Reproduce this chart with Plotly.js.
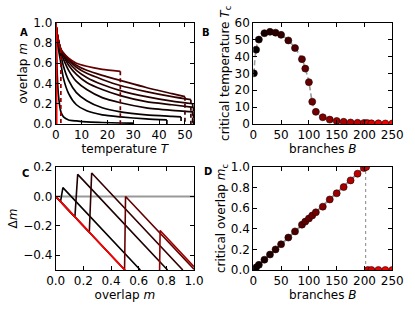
<!DOCTYPE html>
<html><head><meta charset="utf-8">
<script src="https://cdn.plot.ly/plotly-3.0.1.min.js"></script>
<style>html,body{margin:0;padding:0;background:#fff}#chart{width:415px;height:312px}</style>
</head><body><div id="chart"></div>
<script>
// ---------- Panel B / D data (branches B) ----------
const branches = [1, 5, 10, 20, 30, 40, 50, 63, 75, 87.5, 93.5, 100, 106, 112.5, 125, 137.5, 150, 162.5, 175, 187.5, 199, 203, 206, 212.5, 225, 237.5, 250];
const criticalTemp = [30, 44, 50, 53.8, 54.6, 54.1, 52.8, 49.5, 45, 38.4, 32.8, 24.8, 13.2, 7.2, 4.0, 2.6, 1.8, 1.3, 0.9, 0.7, 0.6, 0.5, 0.5, 0.4, 0.4, 0.3, 0.3];
const criticalOverlap = [0.005, 0.025, 0.05, 0.1, 0.15, 0.2, 0.25, 0.315, 0.375, 0.44, 0.47, 0.5, 0.53, 0.56, 0.615, 0.685, 0.745, 0.805, 0.87, 0.935, 0.99, 1.0, 0, 0, 0, 0, 0];
const fitLineB = [0, 200];
const fitLineM = [0, 1];
const thresholdB = [202, 202];
const thresholdM = [0, 1];

// ---------- Panel A data: overlap m vs temperature T, one curve per B ----------
const curveBranchesA = [1, 5, 10, 20, 30, 40, 50, 63, 100, 150, 250];
const tempA_B1   = [0, 0.5, 1, 2, 3, 5, 8, 12, 18, 25, 30];
const overlapA_B1 = [1, 0.55, 0.3, 0.12, 0.07, 0.04, 0.03, 0.02, 0.015, 0.01, 0.008];
const tempA_B5   = [0, 0.5, 1, 2, 3, 5, 8, 12, 18, 25, 35, 43];
const overlapA_B5 = [1, 0.85, 0.75, 0.6, 0.45, 0.3, 0.19, 0.13, 0.09, 0.07, 0.05, 0.04];
const tempA_B10  = [0, 0.5, 1, 2, 3, 5, 8, 12, 18, 25, 35, 45, 48.5];
const overlapA_B10 = [1, 0.88, 0.8, 0.68, 0.57, 0.43, 0.31, 0.23, 0.16, 0.12, 0.09, 0.075, 0.07];
const tempA_B20  = [0, 0.5, 1, 2, 3, 5, 8, 12, 18, 25, 35, 45, 53];
const overlapA_B20 = [1, 0.9, 0.82, 0.71, 0.64, 0.53, 0.42, 0.34, 0.26, 0.21, 0.16, 0.135, 0.12];
const tempA_B30  = [0, 0.5, 1, 2, 3, 5, 8, 12, 18, 25, 35, 45, 53.3];
const overlapA_B30 = [1, 0.9, 0.83, 0.72, 0.67, 0.58, 0.49, 0.41, 0.34, 0.28, 0.22, 0.19, 0.165];
const tempA_B40  = [0, 0.5, 1, 2, 3, 5, 8, 12, 18, 25, 35, 45, 53];
const overlapA_B40 = [1, 0.9, 0.83, 0.73, 0.68, 0.61, 0.53, 0.46, 0.39, 0.33, 0.27, 0.225, 0.2];
const tempA_B50  = [0, 0.5, 1, 2, 3, 5, 8, 12, 18, 25, 35, 45, 52.3];
const overlapA_B50 = [1, 0.9, 0.83, 0.73, 0.69, 0.63, 0.56, 0.5, 0.44, 0.38, 0.32, 0.27, 0.24];
const tempA_B63  = [0, 0.5, 1, 2, 3, 5, 8, 12, 18, 25, 35, 45, 50];
const overlapA_B63 = [1, 0.9, 0.83, 0.74, 0.7, 0.64, 0.58, 0.53, 0.48, 0.43, 0.36, 0.3, 0.27];
const tempA_B100 = [0, 0.5, 1, 2, 3, 5, 8, 12, 18, 25];
const overlapA_B100 = [1, 0.9, 0.83, 0.74, 0.7, 0.65, 0.6, 0.57, 0.54, 0.52];
const tempA_B150 = [0, 0.5, 1, 1.5, 2];
const overlapA_B150 = [1, 0.9, 0.83, 0.77, 0.74];
const tempA_B250 = [0, 0.2, 0.4];
const overlapA_B250 = [1, 0.9, 0];

// ---------- Panel C data: Δm vs overlap m ----------
const curveBranchesC = [7, 28, 49, 100, 150, 250];
const overlapC_B7 = [0, 0.035, 0.052, 0.612];
const deltaC_B7 = [0, -0.035, 0.06, -0.5];
const overlapC_B28 = [0, 0.139, 0.159, 0.809];
const deltaC_B28 = [0, -0.139, 0.15, -0.5];
const overlapC_B49 = [0, 0.243, 0.26, 0.919];
const deltaC_B49 = [0, -0.243, 0.159, -0.5];
const overlapC_B100 = [0, 0.498, 0.505, 1.0];
const deltaC_B100 = [0, -0.498, 0.0, -0.495];
const overlapC_B150 = [0, 0.748, 0.755, 1.0];
const deltaC_B150 = [0, -0.748, -0.232, -0.477];
const overlapC_B250 = [0, 1.0];
const deltaC_B250 = [0, -1.0];
const zeroLineX = [0, 1];
const zeroLineY = [0, 0];

// ---------- helpers ----------
const Bmax = 250;
function col(b){ return 'rgb(' + Math.round(255*Math.min(b,Bmax)/Bmax) + ',0,0)'; }
const FONT = 'DejaVu Sans, Liberation Sans, sans-serif';
const FS = 12;
const traces = [];

// Panel A
const aT = [tempA_B1, tempA_B5, tempA_B10, tempA_B20, tempA_B30, tempA_B40, tempA_B50, tempA_B63, tempA_B100, tempA_B150, tempA_B250];
const aM = [overlapA_B1, overlapA_B5, overlapA_B10, overlapA_B20, overlapA_B30, overlapA_B40, overlapA_B50, overlapA_B63, overlapA_B100, overlapA_B150, overlapA_B250];
curveBranchesA.forEach((b, i) => {
  const T = aT[i], M = aM[i];
  traces.push({x: T, y: M, xaxis: 'x', yaxis: 'y', mode: 'lines', line: {color: col(b), width: 1.7, shape: 'spline', smoothing: 0.6}, hoverinfo: 'skip', showlegend: false});
  const te = T[T.length-1], me = M[M.length-1];
  if (me > 0) traces.push({x: [te, te], y: [me, 0], xaxis: 'x', yaxis: 'y', mode: 'lines', line: {color: col(b), width: 1.7, dash: '4px,3px'}, hoverinfo: 'skip', showlegend: false});
});

// Panel B
traces.push({x: branches, y: criticalTemp, xaxis: 'x2', yaxis: 'y2', mode: 'lines', line: {color: '#999', width: 1.6, dash: '5px,3px', shape: 'spline'}, hoverinfo: 'skip', showlegend: false});
traces.push({x: branches, y: criticalTemp, xaxis: 'x2', yaxis: 'y2', mode: 'markers', marker: {size: 7, color: branches.map(col), line: {color: '#200', width: 0.6}}, cliponaxis: true, showlegend: false});

// Panel C
traces.push({x: zeroLineX, y: zeroLineY, xaxis: 'x3', yaxis: 'y3', mode: 'lines', line: {color: '#999', width: 2}, hoverinfo: 'skip', showlegend: false});
const cX = [overlapC_B7, overlapC_B28, overlapC_B49, overlapC_B100, overlapC_B150, overlapC_B250];
const cY = [deltaC_B7, deltaC_B28, deltaC_B49, deltaC_B100, deltaC_B150, deltaC_B250];
curveBranchesC.forEach((b, i) => {
  traces.push({x: cX[i], y: cY[i], xaxis: 'x3', yaxis: 'y3', mode: 'lines', line: {color: col(b), width: 1.6}, hoverinfo: 'skip', showlegend: false});
});

// Panel D
traces.push({x: fitLineB, y: fitLineM, xaxis: 'x4', yaxis: 'y4', mode: 'lines', line: {color: '#999', width: 2}, hoverinfo: 'skip', showlegend: false});
traces.push({x: thresholdB, y: thresholdM, xaxis: 'x4', yaxis: 'y4', mode: 'lines', line: {color: '#999', width: 1.2, dash: 'dot'}, hoverinfo: 'skip', showlegend: false});
traces.push({x: branches, y: criticalOverlap, xaxis: 'x4', yaxis: 'y4', mode: 'markers', marker: {size: 7, color: branches.map(col), line: {color: '#200', width: 0.6}}, cliponaxis: true, showlegend: false});

function ax(extra){
  return Object.assign({
    showgrid: false, zeroline: false, showline: true, linecolor: '#000', linewidth: 1,
    mirror: 'allticks', ticks: 'inside', ticklen: 4, tickcolor: '#000', tickwidth: 1,
    tickfont: {family: FONT, size: FS, color: '#000'}, fixedrange: true
  }, extra);
}
function ttl(t, s){ return {text: t, font: {family: FONT, size: FS, color: '#000'}, standoff: s}; }

const W = 415, H = 312;
const xdA = [55.7/W, 194/W], xdB = [253.3/W, 392.3/W];
const ydTop = [1-124/H, 1-22.7/H], ydBot = [1-270/H, 1-167/H];

const layout = {
  width: W, height: H, margin: {l: 0, r: 0, t: 0, b: 0}, paper_bgcolor: '#fff', plot_bgcolor: '#fff',
  font: {family: FONT, size: FS, color: '#000'}, showlegend: false,
  xaxis: ax({domain: xdA, anchor: 'y', range: [0, 53.5], tickvals: [0,10,20,30,40,50], title: ttl('temperature <i>T</i>', 0)}),
  yaxis: ax({domain: ydTop, anchor: 'x', range: [0, 1], tickvals: [0,0.2,0.4,0.6,0.8,1.0], tickformat: '.1f', title: ttl('overlap <i>m</i>', 2)}),
  xaxis2: ax({domain: xdB, anchor: 'y2', range: [0, 250], tickvals: [0,50,100,150,200,250], title: ttl('branches <i>B</i>', 0)}),
  yaxis2: ax({domain: ydTop, anchor: 'x2', range: [0, 60], tickvals: [0,10,20,30,40,50,60], title: ttl('critical temperature <i>T</i><sub>c</sub>', 2)}),
  xaxis3: ax({domain: xdA, anchor: 'y3', range: [0, 1], tickvals: [0,0.2,0.4,0.6,0.8,1.0], tickformat: '.1f', title: ttl('overlap <i>m</i>', 0)}),
  yaxis3: ax({domain: ydBot, anchor: 'x3', range: [-0.5, 0.2], tickvals: [-0.4,-0.2,0,0.2], tickformat: '.1f', title: ttl('Δ<i>m</i>', 2)}),
  xaxis4: ax({domain: xdB, anchor: 'y4', range: [0, 250], tickvals: [0,50,100,150,200,250], title: ttl('branches <i>B</i>', 0)}),
  yaxis4: ax({domain: ydBot, anchor: 'x4', range: [0, 1], tickvals: [0,0.2,0.4,0.6,0.8,1.0], tickformat: '.1f', title: ttl('critical overlap <i>m</i><sub>c</sub>', 2)}),
  annotations: [
    {text: '<b>A</b>', x: 18/W, y: 1-25/H, xref: 'paper', yref: 'paper', showarrow: false, font: {family: FONT, size: 10, color: '#000'}},
    {text: '<b>B</b>', x: 206/W, y: 1-25/H, xref: 'paper', yref: 'paper', showarrow: false, font: {family: FONT, size: 10, color: '#000'}},
    {text: '<b>C</b>', x: 20/W, y: 1-173/H, xref: 'paper', yref: 'paper', showarrow: false, font: {family: FONT, size: 10, color: '#000'}},
    {text: '<b>D</b>', x: 208/W, y: 1-171/H, xref: 'paper', yref: 'paper', showarrow: false, font: {family: FONT, size: 10, color: '#000'}}
  ]
};
Plotly.newPlot('chart', traces, layout, {displayModeBar: false, staticPlot: true});
</script></body></html>
